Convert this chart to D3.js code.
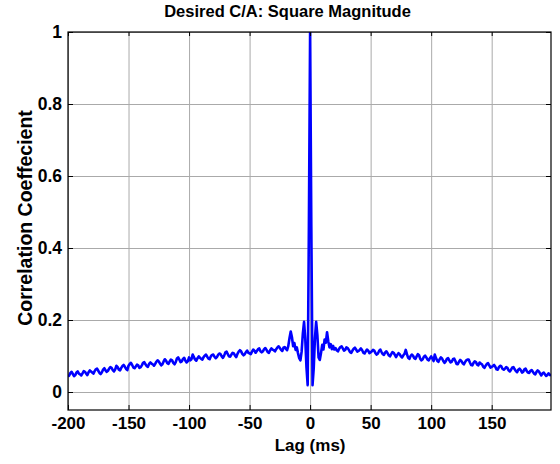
<!DOCTYPE html>
<html>
<head>
<meta charset="utf-8">
<script src="https://cdn.jsdelivr.net/npm/d3@7"></script>
<style>
  body { margin: 0; background: #fff; }
  text { font-family: "Liberation Sans", Arial, sans-serif; font-weight: bold; fill: #000; }
</style>
</head>
<body>
<svg id="chart" width="560" height="464"></svg>
<script>
// correlation values, one per lag
// lags -200 .. -21
var corrLeft = [
    0.043,0.046,0.053,0.056,0.050,0.044,0.047,0.054,0.057,0.051,
    0.049,0.046,0.052,0.058,0.056,0.051,0.047,0.055,0.060,0.057,
    0.054,0.051,0.058,0.063,0.065,0.059,0.053,0.050,0.055,0.062,
    0.066,0.060,0.056,0.059,0.065,0.069,0.067,0.061,0.057,0.063,
    0.073,0.069,0.062,0.060,0.067,0.072,0.075,0.070,0.064,0.061,
    0.073,0.078,0.081,0.075,0.068,0.066,0.071,0.076,0.074,0.067,
    0.069,0.074,0.081,0.083,0.077,0.072,0.070,0.078,0.082,0.079,
    0.077,0.073,0.078,0.084,0.088,0.085,0.079,0.074,0.077,0.085,
    0.091,0.087,0.080,0.078,0.085,0.090,0.088,0.081,0.077,0.083,
    0.093,0.096,0.090,0.083,0.085,0.092,0.095,0.087,0.082,0.086,
    0.096,0.088,0.091,0.104,0.097,0.090,0.087,0.094,0.099,0.095,
    0.092,0.090,0.097,0.101,0.104,0.098,0.093,0.091,0.099,0.103,
    0.104,0.098,0.094,0.097,0.103,0.107,0.105,0.099,0.095,0.101,
    0.110,0.112,0.105,0.099,0.098,0.104,0.109,0.107,0.101,0.097,
    0.106,0.112,0.116,0.113,0.106,0.102,0.105,0.111,0.115,0.109,
    0.107,0.105,0.112,0.118,0.115,0.109,0.114,0.119,0.121,0.113,
    0.110,0.113,0.119,0.122,0.117,0.111,0.109,0.116,0.121,0.118,
    0.116,0.113,0.119,0.124,0.127,0.122,0.117,0.114,0.123,0.125
];

// lags -20 .. 20
var corrCenter = [
    0.120,0.116,0.128,0.150,0.168,0.152,0.127,0.136,0.117,0.124,
    0.108,0.094,0.088,0.112,0.162,0.195,0.148,0.068,0.019,0.460,
    1.000,
    0.460,0.019,0.066,0.150,0.195,0.158,0.096,0.089,0.108,0.131,
    0.118,0.146,0.137,0.166,0.141,0.124,0.133,0.119,0.128,0.118
];

// lags 21 .. 199
var corrRight = [
    0.122,0.116,0.113,0.120,0.125,0.127,0.121,0.115,0.117,0.124,
    0.122,0.117,0.111,0.109,0.115,0.120,0.123,0.118,0.112,0.114,
    0.117,0.121,0.116,0.109,0.107,0.113,0.118,0.115,0.108,0.110,
    0.113,0.117,0.115,0.108,0.104,0.107,0.114,0.118,0.111,0.105,
    0.103,0.110,0.113,0.108,0.102,0.099,0.105,0.111,0.109,0.103,
    0.097,0.103,0.108,0.105,0.099,0.096,0.102,0.106,0.117,0.105,
    0.095,0.092,0.100,0.104,0.101,0.094,0.092,0.099,0.105,0.102,
    0.092,0.088,0.091,0.098,0.101,0.096,0.090,0.088,0.094,0.099,
    0.093,0.086,0.104,0.094,0.087,0.084,0.091,0.096,0.093,0.086,
    0.081,0.085,0.092,0.094,0.088,0.082,0.084,0.091,0.093,0.086,
    0.078,0.077,0.084,0.089,0.086,0.080,0.077,0.083,0.088,0.090,
    0.090,0.082,0.075,0.074,0.081,0.085,0.083,0.076,0.074,0.082,
    0.079,0.077,0.070,0.067,0.073,0.078,0.080,0.074,0.068,0.070,
    0.072,0.075,0.070,0.063,0.062,0.069,0.073,0.071,0.064,0.062,
    0.065,0.069,0.067,0.060,0.057,0.062,0.068,0.069,0.063,0.058,
    0.055,0.062,0.065,0.061,0.054,0.056,0.063,0.065,0.058,0.054,
    0.053,0.059,0.061,0.056,0.051,0.049,0.056,0.060,0.057,0.051,
    0.046,0.052,0.054,0.049,0.045,0.047,0.052,0.048,0.045
];

var corr = corrLeft.concat(corrCenter, corrRight);
var lags = d3.range(-200, 200);

var xTicks = [-200, -150, -100, -50, 0, 50, 100, 150];
var yTicks = [0, 0.2, 0.4, 0.6, 0.8, 1];

var titleText = "Desired C/A: Square Magnitude",
    xLabel = "Lag (ms)",
    yLabel = "Correlation Coeffecient";

var data = lags.map(function(l, i) { return {lag: l, v: corr[i]}; });

var margin = {top: 32, right: 9, bottom: 54, left: 68},
    width = 560 - margin.left - margin.right,
    height = 464 - margin.top - margin.bottom;

var xScale = d3.scaleLinear().domain([-200, 199]).range([0, width]);
var yScale = d3.scaleLinear().domain([-0.05, 1]).range([height, 0]);

var plain = function(d) { return String(d); };

var svg = d3.select("#chart").append("g")
    .attr("transform", "translate(" + margin.left + "," + margin.top + ")");

// grid
svg.append("g")
    .attr("class", "grid")
    .attr("transform", "translate(0," + height + ")")
    .call(d3.axisBottom(xScale).tickValues(xTicks).tickSize(-height).tickFormat(""))
    .call(function(g) { g.select(".domain").remove(); })
    .selectAll("line").attr("stroke", "#aaa");

svg.append("g")
    .attr("class", "grid")
    .call(d3.axisLeft(yScale).tickValues(yTicks).tickSize(-width).tickFormat(""))
    .call(function(g) { g.select(".domain").remove(); })
    .selectAll("line").attr("stroke", "#aaa");

svg.append("clipPath").attr("id", "clip")
    .append("rect").attr("width", width).attr("height", height);

var line = d3.line()
    .x(function(d) { return xScale(d.lag); })
    .y(function(d) { return yScale(d.v); });

svg.append("path")
    .datum(data)
    .attr("clip-path", "url(#clip)")
    .attr("fill", "none")
    .attr("stroke", "#0000ff")
    .attr("stroke-width", 2.6)
    .attr("stroke-linejoin", "round")
    .attr("d", line);

// axes with inward ticks on all four sides
var xAxis = svg.append("g")
    .attr("transform", "translate(0," + height + ")")
    .call(d3.axisBottom(xScale).tickValues(xTicks).tickSizeInner(-5).tickSizeOuter(0)
        .tickPadding(7).tickFormat(plain));
xAxis.selectAll("text").style("font-size", "17px");

var yAxis = svg.append("g")
    .call(d3.axisLeft(yScale).tickValues(yTicks).tickSizeInner(-5).tickSizeOuter(0)
        .tickPadding(6).tickFormat(plain));
yAxis.selectAll("text").style("font-size", "17.5px");

svg.append("g")
    .call(d3.axisTop(xScale).tickValues(xTicks).tickSizeInner(-4).tickSizeOuter(0).tickFormat(""));
svg.append("g")
    .attr("transform", "translate(" + width + ",0)")
    .call(d3.axisRight(yScale).tickValues(yTicks).tickSizeInner(-5).tickSizeOuter(0).tickFormat(""));

svg.selectAll(".domain").remove();
svg.selectAll(".tick line").filter(function() { return !this.parentNode.parentNode.classList.contains("grid"); })
    .attr("stroke", "#000");

svg.append("rect")
    .attr("width", width)
    .attr("height", height)
    .attr("fill", "none")
    .attr("stroke", "#000")
    .attr("stroke-width", 1.2);

// labels
svg.append("text")
    .attr("x", width / 2 - 22)
    .attr("y", -15)
    .style("text-anchor", "middle")
    .style("font-size", "16.5px")
    .text(titleText);

svg.append("text")
    .attr("x", xScale(0))
    .attr("y", height + 41)
    .style("text-anchor", "middle")
    .style("font-size", "17px")
    .text(xLabel);

svg.append("text")
    .attr("transform", "rotate(-90)")
    .attr("x", -(height / 2) + 3)
    .attr("y", -36)
    .style("text-anchor", "middle")
    .style("font-size", "19.5px")
    .text(yLabel);
</script>
</body>
</html>
